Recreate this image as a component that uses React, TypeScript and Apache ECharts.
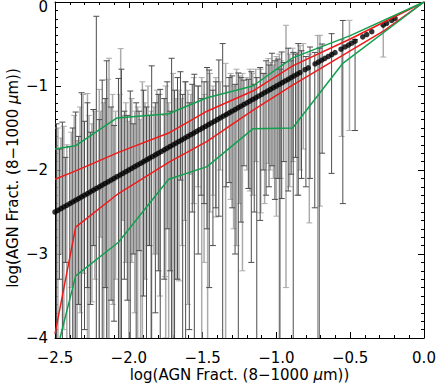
import React, { useEffect, useRef } from 'react';
import * as echarts from 'echarts';

const X_TICKS = [-2.5, -2.0, -1.5, -1.0, -0.5, 0.0];
const Y_TICKS = [-4, -3, -2, -1, 0];

// black points [x, y]
const fitPoints: number[][] = [
  [-2.5, -2.5], [-2.48, -2.48], [-2.46, -2.46], [-2.44, -2.44], [-2.42, -2.42], [-2.4, -2.4],
  [-2.38, -2.38], [-2.36, -2.36], [-2.34, -2.34], [-2.32, -2.32], [-2.3, -2.3], [-2.28, -2.28],
  [-2.26, -2.26], [-2.24, -2.24], [-2.22, -2.22], [-2.2, -2.2], [-2.18, -2.18], [-2.16, -2.16],
  [-2.14, -2.14], [-2.12, -2.12], [-2.1, -2.1], [-2.08, -2.08], [-2.06, -2.06], [-2.04, -2.04],
  [-2.02, -2.02], [-2.0, -2.0], [-1.98, -1.98], [-1.96, -1.96], [-1.94, -1.94], [-1.92, -1.92],
  [-1.9, -1.9], [-1.88, -1.88], [-1.86, -1.86], [-1.84, -1.84], [-1.82, -1.82], [-1.8, -1.8],
  [-1.78, -1.78], [-1.76, -1.76], [-1.74, -1.74], [-1.72, -1.72], [-1.7, -1.7], [-1.68, -1.68],
  [-1.66, -1.66], [-1.64, -1.64], [-1.62, -1.62], [-1.6, -1.6], [-1.58, -1.58], [-1.56, -1.56],
  [-1.54, -1.54], [-1.52, -1.52], [-1.5, -1.5], [-1.48, -1.48], [-1.46, -1.46], [-1.44, -1.44],
  [-1.42, -1.42], [-1.4, -1.4], [-1.38, -1.38], [-1.36, -1.36], [-1.34, -1.34], [-1.32, -1.32],
  [-1.3, -1.3], [-1.28, -1.28], [-1.26, -1.26], [-1.24, -1.24], [-1.22, -1.22], [-1.2, -1.2],
  [-1.18, -1.18], [-1.16, -1.16], [-1.14, -1.14], [-1.12, -1.12], [-1.1, -1.1], [-1.08, -1.08],
  [-1.06, -1.06], [-1.04, -1.04], [-1.02, -1.02], [-1.0, -1.0], [-0.98, -0.98], [-0.96, -0.96],
  [-0.94, -0.94], [-0.92, -0.92], [-0.9, -0.9], [-0.88, -0.88], [-0.86, -0.86], [-0.84, -0.84],
  [-0.806, -0.806], [-0.784, -0.784], [-0.738, -0.738], [-0.716, -0.716], [-0.693, -0.693],
  [-0.671, -0.671], [-0.648, -0.648], [-0.625, -0.625], [-0.603, -0.603], [-0.562, -0.562],
  [-0.535, -0.535], [-0.512, -0.512], [-0.49, -0.49], [-0.467, -0.467], [-0.415, -0.415],
  [-0.388, -0.388], [-0.354, -0.354], [-0.276, -0.276], [-0.253, -0.253], [-0.219, -0.219],
  [-0.196, -0.196],
];

// error bars [x, low, high] (low below -4 are clipped at the frame)
const darkBars: number[][] = [
  [-2.49, -5, -1.45], [-2.47, -3.3, -1.75], [-2.45, -5, -1.43], [-2.43, -3.1, -1.85], [-2.4, -4.2, -1.72],
  [-2.38, -5, -1.5], [-2.36, -5, -1.31], [-2.34, -3.6, -1.6], [-2.32, -5, -1.08], [-2.3, -3.9, -1.42],
  [-2.28, -3.4, -1.2], [-2.26, -3.6, -1.55], [-2.24, -2.9, -1.28], [-2.22, -5, -0.17], [-2.2, -4.6, -1.4],
  [-2.18, -5, -0.93], [-2.16, -3.4, -1.15], [-2.15, -5, -0.7], [-2.12, -3.55, -1.25], [-2.1, -3.8, -1.47],
  [-2.07, -5, -0.91], [-2.05, -5, -0.8], [-2.03, -3.3, -1.3], [-2.01, -3.55, -1.35], [-1.99, -5, -1.06],
  [-1.97, -3.0, -1.45], [-1.95, -5, -1.2], [-1.93, -2.96, -1.3], [-1.9, -3.5, -1.05], [-1.88, -5, -1.25],
  [-1.86, -2.9, -1.35], [-1.845, -5, -0.76], [-1.82, -3.7, -1.2], [-1.8, -3.2, -1.1], [-1.787, -5, -1.04],
  [-1.76, -3.3, -1.15], [-1.74, -2.7, -0.95], [-1.72, -3.2, -1.3], [-1.71, -5, -0.67], [-1.69, -4.1, -1.05],
  [-1.67, -3.3, -0.9], [-1.65, -2.12, -0.83], [-1.635, -5, -1.1], [-1.615, -5, -0.95], [-1.59, -3.9, -1.2],
  [-1.57, -2.5, -0.98], [-1.556, -5, -0.86], [-1.53, -3.0, -1.0], [-1.51, -2.3, -1.15], [-1.49, -2.4, -0.95],
  [-1.47, -2.7, -0.78], [-1.455, -3.4, -0.81], [-1.43, -2.9, -1.05], [-1.41, -2.45, -0.95], [-1.39, -2.55, -0.69],
  [-1.364, -5, -0.495], [-1.34, -2.2, -1.0], [-1.32, -2.15, -0.9], [-1.3, -2.45, -0.88], [-1.28, -3.0, -0.98],
  [-1.258, -5, -0.845], [-1.24, -2.62, -0.9], [-1.22, -1.95, -0.93], [-1.19, -2.22, -0.92], [-1.17, -3.1, -0.83],
  [-1.15, -2.5, -0.98], [-1.133, -5, -0.9], [-1.11, -2.6, -0.78], [-1.09, -2.0, -0.85], [-1.07, -2.3, -0.7],
  [-1.05, -2.2, -0.75], [-1.03, -1.95, -0.61], [-1.01, -2.35, -0.7], [-0.99, -2.1, -0.68], [-0.976, -5, -0.8],
  [-0.964, -2.34, -0.595], [-0.95, -1.9, -0.72], [-0.92, -2.25, -0.55], [-0.9, -2.05, -0.7], [-0.886, -5, -0.6],
  [-0.87, -1.85, -0.62], [-0.852, -2.3, -0.495], [-0.83, -2.1, -0.58], [-0.8, -2.2, -0.65], [-0.772, -2.1, -0.536],
  [-0.74, -2.45, -0.6], [-0.71, -5, -0.55], [-0.69, -1.8, -0.5], [-0.626, -2.04, -0.377], [-0.55, -2.4, -0.22],
  [-0.467, -1.53, -0.448],
];

const lightBars: number[][] = [
  [-2.48, -5, -1.5], [-2.46, -3.0, -1.62], [-2.44, -3.9, -1.48], [-2.42, -5, -1.7], [-2.39, -3.4, -1.55],
  [-2.37, -4.4, -1.35], [-2.35, -5, -1.65], [-2.33, -3.7, -1.25], [-2.31, -3.23, -1.1], [-2.28, -5, -1.09],
  [-2.27, -4.1, -1.35], [-2.25, -3.57, -1.45], [-2.23, -3.3, -1.3], [-2.2, -5, -1.04], [-2.19, -2.8, -1.3],
  [-2.17, -4.3, -1.2], [-2.14, -5, -0.92], [-2.134, -5, -0.67], [-2.11, -3.6, -1.1], [-2.09, -3.3, -1.3],
  [-2.06, -5, -1.1], [-2.055, -4.2, -0.555], [-2.04, -2.6, -1.35], [-2.02, -3.1, -1.2], [-2.0, -5, -1.42],
  [-1.98, -3.1, -1.15], [-1.96, -3.7, -1.3], [-1.94, -5, -1.25], [-1.92, -4.0, -1.4], [-1.908, -5, -0.95],
  [-1.89, -3.3, -1.2], [-1.87, -2.9, -1.0], [-1.85, -5, -1.3], [-1.83, -3.0, -1.25], [-1.81, -3.0, -1.05],
  [-1.79, -3.5, -1.1], [-1.755, -3.27, -1.35], [-1.75, -4.0, -1.0], [-1.73, -5, -1.2], [-1.7, -5, -0.85],
  [-1.68, -3.3, -1.15], [-1.66, -3.32, -1.05], [-1.64, -2.9, -1.15], [-1.62, -2.6, -0.95], [-1.6, -3.6, -1.05],
  [-1.58, -2.05, -1.1], [-1.56, -2.4, -0.9], [-1.53, -2.2, -1.0], [-1.506, -5, -0.9], [-1.49, -3.1, -1.1],
  [-1.466, -5, -0.95], [-1.45, -2.5, -0.85], [-1.43, -2.3, -1.0], [-1.41, -2.56, -0.9], [-1.38, -2.0, -0.95],
  [-1.344, -5, -0.73], [-1.31, -2.35, -0.85], [-1.29, -2.7, -1.0], [-1.27, -2.9, -0.8], [-1.25, -2.4, -0.88],
  [-1.23, -3.2, -0.85], [-1.2, -2.0, -0.9], [-1.18, -2.25, -0.8], [-1.16, -2.3, -0.85], [-1.14, -1.9, -0.8],
  [-1.106, -2.51, -0.8], [-1.08, -2.4, -0.85], [-1.055, -1.92, -0.674], [-1.04, -2.0, -0.72], [-1.02, -2.1, -0.75],
  [-1.0, -2.55, -0.65], [-0.98, -5, -0.62], [-0.97, -2.1, -0.7], [-0.935, -3.4, -0.277], [-0.91, -2.2, -0.62],
  [-0.89, -1.9, -0.55], [-0.86, -2.3, -0.6], [-0.84, -2.0, -0.52], [-0.818, -1.75, -0.495], [-0.777, -2.63, -0.62],
  [-0.72, -5, -0.4], [-0.705, -2.43, -0.396], [-0.558, -1.6, -0.448], [-0.505, -1.53, -0.218], [-0.276, -0.655, -0.277],
];

const redUpper: number[][] = [
  [-2.5, -2.11], [-2.36, -2.01], [-2.07, -1.79], [-1.73, -1.56], [-1.47, -1.3], [-1.16, -1.06],
  [-0.89, -0.76], [-0.5, -0.44], [0, 0],
];
const redLower: number[][] = [
  [-2.5, -3.95], [-2.36, -2.68], [-2.07, -2.28], [-1.73, -1.91], [-1.47, -1.66], [-1.16, -1.29],
  [-0.89, -0.99], [-0.27, -0.34], [0, 0],
];
const greenUpper: number[][] = [
  [-2.5, -1.75], [-2.36, -1.71], [-2.08, -1.38], [-1.73, -1.33], [-1.47, -1.14], [-1.16, -1.0],
  [-0.89, -0.665], [-0.5, -0.4], [0, 0],
];
const greenLower: number[][] = [
  [-2.466, -4.0], [-2.36, -3.26], [-2.07, -2.86], [-1.73, -2.11], [-1.47, -1.96], [-1.16, -1.51],
  [-0.89, -1.5], [-0.55, -0.73], [0, 0],
];

const FONT = 'DejaVu Sans';
const minus = (s: string) => s.replace('-', '\u2212');

function barRenderer(color: string, width: number) {
  return (params: any, api: any) => {
    const x = api.value(0);
    const lo = api.value(1);
    const hi = api.value(2);
    const top = api.coord([x, hi]);
    const bot = api.coord([x, lo]);
    const cap = 3;
    const style = { stroke: color, lineWidth: width };
    return {
      type: 'group',
      children: [
        { type: 'line', shape: { x1: top[0], y1: top[1], x2: bot[0], y2: bot[1] }, style },
        { type: 'line', shape: { x1: top[0] - cap, y1: top[1], x2: top[0] + cap, y2: top[1] }, style: { stroke: color, lineWidth: 1 } },
        { type: 'line', shape: { x1: bot[0] - cap, y1: bot[1], x2: bot[0] + cap, y2: bot[1] }, style: { stroke: color, lineWidth: 1 } },
      ],
    };
  };
}

export default function App() {
  const ref = useRef<HTMLDivElement>(null);
  useEffect(() => {
    if (!ref.current) return;
    const chart = echarts.init(ref.current, undefined, { renderer: 'svg' });
    const xMin = X_TICKS[0];
    const xMax = X_TICKS[X_TICKS.length - 1];
    const yMin = Y_TICKS[0];
    const yMax = Y_TICKS[Y_TICKS.length - 1];
    const axisCommon = {
      axisLine: { show: true, onZero: false, lineStyle: { color: '#000', width: 1 } },
      axisTick: { show: true, inside: true, length: 6, lineStyle: { color: '#000', width: 1 } },
      minorTick: { show: true, length: 3, lineStyle: { color: '#000', width: 1 } },
      splitLine: { show: false },
    };
    const titleText = 'log(AGN Fract. (8\u22121000 {i|\u03bc}m))';
    const titleStyle = {
      fontFamily: FONT,
      fontSize: 15,
      color: '#000',
    };
    const rich = {
      i: { fontFamily: FONT, fontSize: 15, color: '#000', fontStyle: 'italic' },
    };
    chart.setOption({
      animation: false,
      grid: { left: 55, right: 12, top: 2, bottom: 47, containLabel: false, outerBoundsMode: 'none' },
      xAxis: [
        {
          type: 'value', min: xMin, max: xMax, interval: 0.5, position: 'bottom',
          ...axisCommon,
          minorTick: { ...axisCommon.minorTick, splitNumber: 5 },
          axisLabel: {
            margin: 12, fontFamily: FONT, fontSize: 15, color: '#000',
            formatter: (v: number) => minus(v.toFixed(1)),
          },
          name: titleText, nameLocation: 'middle', nameGap: 29, nameMoveOverlap: false,
          nameTextStyle: { ...titleStyle, rich },
        },
        {
          type: 'value', min: xMin, max: xMax, interval: 0.5, position: 'top',
          ...axisCommon,
          minorTick: { ...axisCommon.minorTick, splitNumber: 5 },
          axisLabel: { show: false },
        },
      ],
      yAxis: [
        {
          type: 'value', min: yMin, max: yMax, interval: 1, position: 'left',
          ...axisCommon,
          minorTick: { ...axisCommon.minorTick, splitNumber: 10 },
          axisLabel: {
            margin: 7, fontFamily: FONT, fontSize: 15, color: '#000',
            formatter: (v: number) => (v === 0 ? '{z|0}' : minus(String(v))),
            rich: { z: { fontFamily: FONT, fontSize: 15, color: '#000', padding: [9, 0, 0, 0] } },
          },
          name: titleText, nameLocation: 'middle', nameGap: 35, nameRotate: 90, nameMoveOverlap: false,
          nameTextStyle: { ...titleStyle, rich, padding: [0, 16, 0, 0] },
        },
        {
          type: 'value', min: yMin, max: yMax, interval: 1, position: 'right',
          ...axisCommon,
          minorTick: { ...axisCommon.minorTick, splitNumber: 10 },
          axisLabel: { show: false },
        },
      ],
      series: [
        {
          type: 'custom', name: 'light', renderItem: barRenderer('#ababab', 1.5), data: lightBars,
          encode: { x: 0, y: [1, 2] }, clip: true, silent: true, z: 1,
        },
        {
          type: 'custom', name: 'dark', renderItem: barRenderer('#4d4d4d', 1), data: darkBars,
          encode: { x: 0, y: [1, 2] }, clip: true, silent: true, z: 2,
        },
        {
          type: 'scatter', data: fitPoints, symbol: 'circle', symbolSize: 5.5,
          itemStyle: { color: '#000' }, silent: true, z: 3,
        },
        { type: 'line', data: redUpper, showSymbol: false, symbol: 'none', lineStyle: { color: '#f01a1a', width: 1.5 }, silent: true, z: 4 },
        { type: 'line', data: redLower, showSymbol: false, symbol: 'none', lineStyle: { color: '#f01a1a', width: 1.5 }, silent: true, z: 4 },
        { type: 'line', data: greenUpper, showSymbol: false, symbol: 'none', lineStyle: { color: '#12a050', width: 1.5 }, silent: true, z: 4 },
        { type: 'line', data: greenLower, showSymbol: false, symbol: 'none', lineStyle: { color: '#12a050', width: 1.5 }, silent: true, z: 4 },
      ],
    });
    return () => chart.dispose();
  }, []);
  return (
    <div
      ref={ref}
      style={{ position: 'fixed', left: 0, top: 0, width: 436, height: 385, background: '#fff' }}
    />
  );
}
